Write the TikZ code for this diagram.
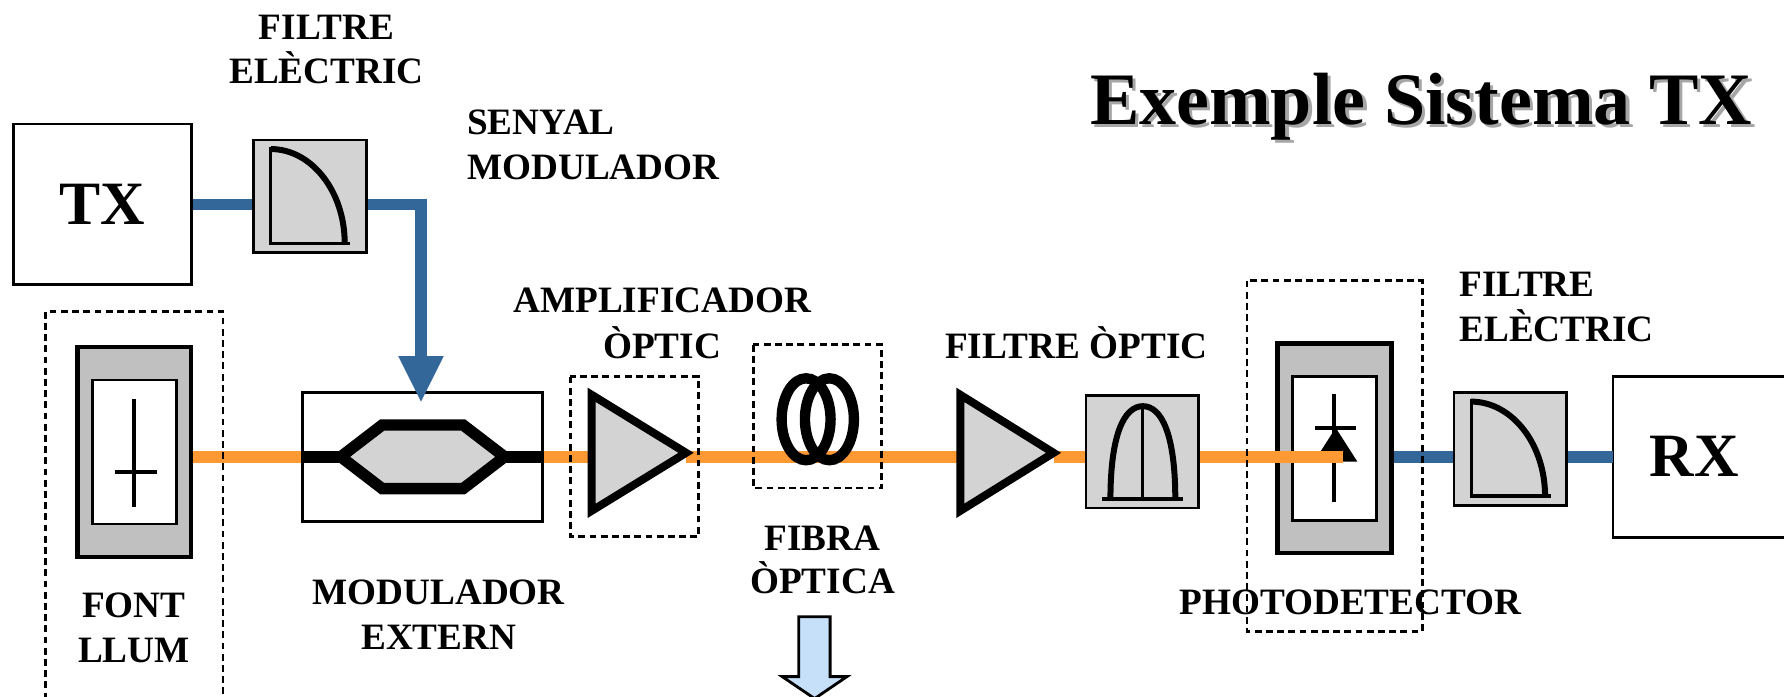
\documentclass[tikz,border=0pt]{standalone}
\usepackage{fontspec}
\setmainfont{Liberation Serif}
\usetikzlibrary{calc}
\definecolor{optorange}{HTML}{FF9933}
\definecolor{sigblue}{HTML}{336699}
\definecolor{boxgray}{HTML}{D3D3D3}
\definecolor{srcgray}{HTML}{C0C0C0}
\definecolor{arrowblue}{HTML}{C6E0FA}
\begin{document}
\begin{tikzpicture}[x=0.01cm, y=-0.01cm, line join=miter,
  lbl/.style={font=\fontsize{9.3}{11}\selectfont\bfseries, inner sep=0pt, anchor=base},
  big/.style={font=\fontsize{15.4}{18}\selectfont\bfseries, inner sep=0pt},
  ttl/.style={font=\fontsize{18.5}{22}\selectfont\bfseries, inner sep=0pt, anchor=base},
  plainbox/.style={draw, line width=0.7pt, fill=white, inner sep=0pt},
  filtbox/.style={draw, line width=0.7pt, fill=boxgray, inner sep=0pt, minimum width=0.99cm, minimum height=0.99cm},
  srcbox/.style={draw, line width=1.1pt, fill=srcgray, inner sep=0pt, minimum width=1cm, minimum height=1.84cm},
  innerbox/.style={draw, line width=0.7pt, fill=white, inner sep=0pt, minimum width=0.74cm, minimum height=1.265cm},
  group/.style={draw, line width=0.7pt, dash pattern=on 1.7pt off 1.1pt},
  optline/.style={draw=optorange, line width=2.85pt},
  sigline/.style={draw=sigblue, line width=2.85pt},
  amptri/.style={draw, fill=boxgray, line width=2pt},
  symthick/.style={line width=1.5pt},
  symthin/.style={line width=0.8pt}]
\useasboundingbox (0,0) rectangle (1568,612);

% title with shadow
\node[ttl, text=black!35] (ttlshadow) at (1252,112) {Exemple Sistema TX};
\node[ttl] (ttl) at (1249,109) {Exemple Sistema TX};

% components
\node[plainbox, big, minimum width=1.56cm, minimum height=1.41cm] (tx) at (90,179.5) {TX};
\node[filtbox] (f1) at (272.5,172.5) {};
\node[srcbox, minimum height=1.845cm] (fl) at (118,397.25) {};
\node[innerbox] (fli) at (118,397.25) {};
\node[plainbox, minimum width=2.11cm, minimum height=1.13cm] (mod) at (371.5,401.5) {};
\node[filtbox, minimum height=0.985cm] (of) at (1004,397.2) {};
\node[srcbox] (pd) at (1173,394) {};
\node[innerbox] (pdi) at (1173,394.3) {};
\node[filtbox] (f2) at (1327.5,394.5) {};
\node[big, minimum width=1.41cm, minimum height=1.41cm] (rx) at (1489,401.35) {RX};
\draw[line width=0.7pt] (rx.south west) rectangle (1600,330.85);

% named points
\coordinate (modin) at (370,353);
\coordinate (modshaft) at (370,314);
\coordinate (hexl) at (299.5,401.5);
\coordinate (hexr) at (443.5,401.5);
\coordinate (a1in) at (520,401.5);
\coordinate (a1out) at (603,401.5);
\coordinate (a2in) at (844,401.5);
\coordinate (a2out) at (926,401.5);
\coordinate (pdtap) at (1180,401.5);

% light source cross
\draw[line width=1.1pt] (117.7,350.7) -- (117.7,445.6) (100.9,415) -- (138,415);

% electrical filter symbols
\begin{scope}[shift={(f1.center)}]
  \draw[symthin] (-34.5,-43.5) -- (-34.5,41.5) -- (35.5,41.5);
  \draw[symthick] (-34.5,-41.5) .. controls (1.4,-41.5) and (30.5,-4.3) .. (30.5,41.5);
\end{scope}
\begin{scope}[shift={(f2.center)}]
  \draw[symthin] (-34.5,-43.5) -- (-34.5,41.5) -- (35.5,41.5);
  \draw[symthick] (-34.5,-41.5) .. controls (1.4,-41.5) and (30.5,-4.3) .. (30.5,41.5);
\end{scope}

% modulator
\draw[line width=2.85pt] (mod.west) -- (hexl) (hexr) -- (mod.east);
\draw[line width=2.85pt, fill=boxgray] (hexl) -- (336,373.5) -- (407,373.5) -- (hexr) -- (407,429.5) -- (336,429.5) -- cycle;

% optical filter symbol
\draw[symthin] (1004,357) -- (1004,438.6);
\draw[line width=1.2pt] (968.6,438.6) -- (1039.7,438.6);
\draw[symthick] (976,438.6) .. controls (976,382) and (988,357) .. (1004.5,357) .. controls (1021,357) and (1033,382) .. (1033,438.6);

% photodiode
\begin{scope}[shift={(pd.center)}]
  \draw[line width=1.1pt] (-0.5,-48) -- (-0.5,47) (-17,-18) -- (19,-18);
  \fill (-18,11.7) -- (20,11.7) -- (1,-18) -- cycle;
\end{scope}

% electrical signal lines
\draw[sigline] (tx.east) -- (tx.east -| f1.west);
\draw[sigline] (tx.east -| f1.east) -| (modshaft);
\fill[sigblue] (modin) -- ++(-20,-40) -- ++(40,0) -- cycle;
\draw[sigline] (pd.east |- pdtap) -- (f2.west |- pdtap);
\draw[sigline] (f2.east |- pdtap) -- (rx.west |- pdtap);

% optical lines
\draw[optline] (fl.east |- mod.west) -- (mod.west);
\draw[optline] (mod.east) -- (a1in);
\draw[optline] (a1out) -- (a2in);
\draw[optline] (a2out) -- (of.west |- a2out);
\draw[optline] (of.east |- a2out) -- (pdtap);

% amplifiers
\draw[amptri] (520,347) -- (603,398) -- (520,449) -- cycle;
\draw[amptri] (844,347) -- (926,398) -- (844,449) -- cycle;

% fibre coil
\draw[line width=2.6pt] (708.5,368.5) ellipse [x radius=21.5, y radius=36];
\draw[line width=2.6pt] (729,368.5) ellipse [x radius=21.5, y radius=36];

% dashed groups
\draw[group] (40,274) rectangle (196,625);
\draw[group] (501.4,331) rectangle (614,471.7);
\draw[group] (662,303) rectangle (775,429);
\draw[group] (1096,246.7) rectangle (1250,555);

% down arrow
\draw[line width=0.7pt, fill=arrowblue] (702,542) -- (729.6,542) -- (729.6,594.7) -- (744.4,594.7) -- (716,614) -- (687.5,594.7) -- (702,594.7) -- cycle;

% labels
\node[lbl] (lf1a) at (287,34.3) {FILTRE};
\node[lbl] (lf1b) at (287,73) {ELÈCTRIC};
\node[lbl, anchor=base west] (lsa) at (410,118.6) {SENYAL};
\node[lbl, anchor=base west] (lsb) at (410,157.6) {MODULADOR};
\node[lbl] (laa) at (582,275) {AMPLIFICADOR};
\node[lbl] (lab) at (582,315) {ÒPTIC};
\node[lbl] (lfa) at (723,483.5) {FIBRA};
\node[lbl] (lfb) at (723,522) {ÒPTICA};
\node[lbl] (lof) at (946,315) {FILTRE ÒPTIC};
\node[lbl] (lma) at (385.6,531) {MODULADOR};
\node[lbl] (lmb) at (385.6,570.5) {EXTERN};
\node[lbl] (lfla) at (117.7,542.5) {FONT};
\node[lbl] (lflb) at (117.7,582.4) {LLUM};
\node[lbl] (lpd) at (1187,540.5) {PHOTODETECTOR};
\node[lbl, anchor=base west] (lf2a) at (1282,260.7) {FILTRE};
\node[lbl, anchor=base west] (lf2b) at (1282,300.3) {ELÈCTRIC};
\end{tikzpicture}
\end{document}
